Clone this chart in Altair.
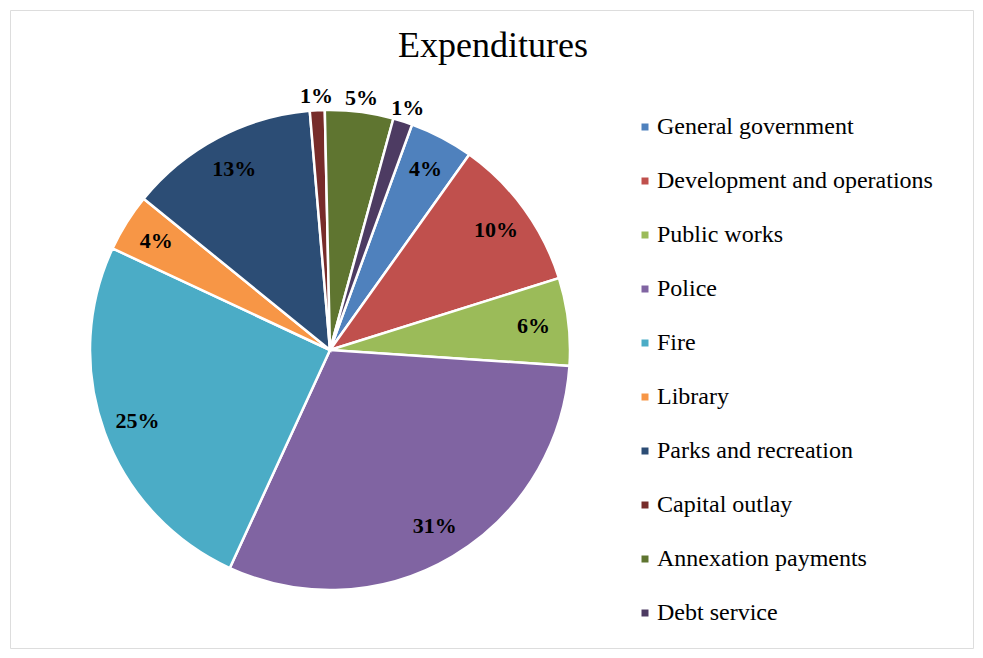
import math
import altair as alt
import pandas as pd

title_text = "Expenditures"
categories = [
    "General government",
    "Development and operations",
    "Public works",
    "Police",
    "Fire",
    "Library",
    "Parks and recreation",
    "Capital outlay",
    "Annexation payments",
    "Debt service",
]
values = [4.3, 10.3, 5.9, 30.8, 25.1, 3.9, 12.8, 1.0, 4.6, 1.3]
colors = [
    "#4F81BD", "#C0504D", "#9BBB59", "#8064A2", "#4BACC6",
    "#F79646", "#2C4D75", "#772C2A", "#5F7530", "#4D3B62",
]
outside_labels = ["Capital outlay", "Annexation payments", "Debt service"]

total = sum(values)
df = pd.DataFrame({
    "category": categories,
    "value": values,
    "idx": list(range(len(categories))),
    "label": [f"{round(v / total * 100):d}%" for v in values],
    "outside": [c in outside_labels for c in categories],
})

FONT = "Liberation Serif"
start = math.radians(20)
cx, cy = 320, 340
theta_scale = alt.Scale(range=[start, start + 2 * math.pi])

pie = alt.Chart(df).mark_arc(outerRadius=240, stroke="white", strokeWidth=2.5).encode(
    theta=alt.Theta("value:Q", stack=True, scale=theta_scale),
    order=alt.Order("idx:Q"),
    color=alt.Color(
        "category:N",
        sort=categories,
        scale=alt.Scale(domain=categories, range=colors),
        legend=alt.Legend(
            title=None,
            orient="none",
            legendX=623,
            legendY=105,
            symbolType="square",
            symbolSize=49,
            symbolStrokeWidth=0,
            labelFont=FONT,
            labelFontSize=24,
            labelColor="#000000",
            labelOffset=0,
            rowPadding=30,
            padding=0,
            labelLimit=400,
        ),
    ),
    x=alt.value(cx),
    y=alt.value(cy),
)

label_base = alt.Chart(df).transform_stack(
    stack="value", groupby=[], as_=["v0", "v1"], sort=[alt.SortField("idx")]
).transform_calculate(mid="(datum.v0 + datum.v1) / 2")


def label_layer(filter_expr, r, dy=0):
    return label_base.transform_filter(filter_expr).mark_text(
        radius=r, dy=dy, font=FONT, fontSize=22, fontWeight="bold", color="#000000",
        align="center", baseline="middle",
    ).encode(
        theta=alt.Theta("mid:Q", stack=None, scale=theta_scale),
        text="label:N",
        x=alt.value(cx),
        y=alt.value(cy),
    )


inner = label_layer("!datum.outside", 205)
outer = label_layer("datum.outside", 256, dy=2)

title = alt.Chart(pd.DataFrame({"t": [title_text]})).mark_text(
    font=FONT, fontSize=36, color="#000000", align="center", baseline="alphabetic"
).encode(text="t:N", x=alt.value(483), y=alt.value(47))

chart = alt.layer(pie, inner, outer, title).properties(
    width=963,
    height=638,
    padding=2,
    autosize=alt.AutoSizeParams(type="none"),
).configure_view(
    stroke="#d9d9d9", strokeWidth=1.5
).configure(background="white")

chart.save("out.html", embed_options={"renderer": "svg", "actions": False})
